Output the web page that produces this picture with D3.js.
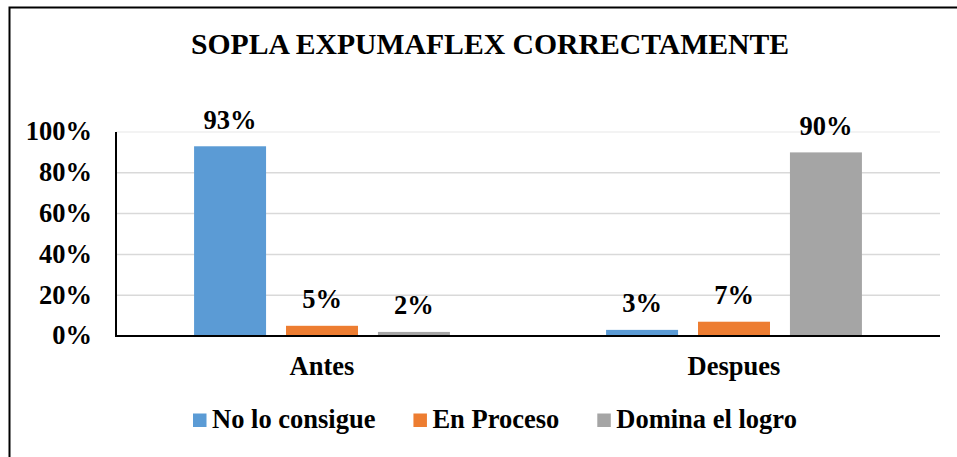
<!DOCTYPE html>
<html>
<head>
<meta charset="utf-8">
<script src="https://cdn.jsdelivr.net/npm/d3@7"></script>
<style>
	body { margin: 0; background: #fff; }
</style>
</head>
<body>
<svg id="chart" width="957" height="457"></svg>
<script>
// data
const categories = ["Antes", "Despues"];
const seriesNames = ["No lo consigue", "En Proceso", "Domina el logro"];
const seriesColors = ["#5b9bd5", "#ed7d31", "#a5a5a5"];
const noLoConsigue = [93, 3];
const enProceso = [5, 7];
const dominaElLogro = [2, 90];
const yTicks = [0, 20, 40, 60, 80, 100];

const seriesValues = [noLoConsigue, enProceso, dominaElLogro];
const FONT = "Liberation Serif";
const FS = 26.5;

const svg = d3.select("#chart")
	.attr("font-family", FONT)
	.attr("font-weight", "bold");

//outer frame (right and bottom edges are off the picture)
svg.append("path")
	.attr("d", "M9.5,460 L9.5,7.5 L960,7.5")
	.attr("fill", "none")
	.attr("stroke", "#000")
	.attr("stroke-width", 2);

//title
svg.append("text")
	.attr("x", 490)
	.attr("y", 54)
	.attr("text-anchor", "middle")
	.attr("font-family", FONT)
	.attr("font-size", 29.7)
	.text("SOPLA EXPUMAFLEX CORRECTAMENTE");

const plot = { left: 116, right: 940, top: 132, bottom: 336 };

var y = d3.scaleLinear().domain([0, 100]).range([plot.bottom, plot.top]);

var x0 = d3.scaleBand()
	.domain(categories)
	.range([plot.left, plot.right])
	.paddingInner(0.379)
	.paddingOuter(0.1895);

var x1 = d3.scaleBand()
	.domain(seriesNames)
	.range([0, x0.bandwidth()])
	.paddingInner(0.217)
	.paddingOuter(0);

//gridlines
svg.append("g")
	.selectAll("line")
	.data(yTicks.filter((t) => t > 0))
	.enter()
	.append("line")
	.attr("x1", plot.left)
	.attr("x2", plot.right)
	.attr("y1", (d) => y(d))
	.attr("y2", (d) => y(d))
	.attr("stroke", (d) => (d === 100 ? "#efefef" : "#d9d9d9"))
	.attr("stroke-width", 1.5);

//y tick labels
svg.append("g")
	.selectAll("text")
	.data(yTicks)
	.enter()
	.append("text")
	.attr("x", 92)
	.attr("y", (d) => y(d))
	.attr("dy", "0.32em")
	.attr("text-anchor", "end")
	.attr("font-family", FONT)
	.attr("font-size", FS)
	.text((d) => d + "%");

//bars
const rows = [];
categories.forEach((c, ci) => {
	seriesNames.forEach((s, si) => {
		rows.push({ cat: c, series: s, color: seriesColors[si], value: seriesValues[si][ci] });
	});
});

svg.append("g")
	.selectAll("rect")
	.data(rows)
	.enter()
	.append("rect")
	.attr("x", (d) => x0(d.cat) + x1(d.series))
	.attr("width", x1.bandwidth())
	.attr("y", (d) => y(d.value))
	.attr("height", (d) => y(0) - y(d.value))
	.attr("fill", (d) => d.color);

//value labels
svg.append("g")
	.selectAll("text")
	.data(rows)
	.enter()
	.append("text")
	.attr("x", (d) => x0(d.cat) + x1(d.series) + x1.bandwidth() / 2)
	.attr("y", (d) => y(d.value) - 17.5)
	.attr("text-anchor", "middle")
	.attr("font-family", FONT)
	.attr("font-size", FS)
	.text((d) => d.value + "%");

//axes lines
svg.append("line")
	.attr("x1", plot.left).attr("x2", plot.left)
	.attr("y1", plot.top).attr("y2", plot.bottom + 1)
	.attr("stroke", "#000").attr("stroke-width", 2);
svg.append("line")
	.attr("x1", plot.left - 1).attr("x2", plot.right)
	.attr("y1", plot.bottom).attr("y2", plot.bottom)
	.attr("stroke", "#000").attr("stroke-width", 2);

//category labels
svg.append("g")
	.selectAll("text")
	.data(categories)
	.enter()
	.append("text")
	.attr("x", (d) => x0(d) + x0.bandwidth() / 2)
	.attr("y", 375)
	.attr("text-anchor", "middle")
	.attr("font-family", FONT)
	.attr("font-size", FS)
	.text((d) => d);

//legend
var legend = svg.append("g");
var lx = 193;
seriesNames.forEach((name, i) => {
	legend.append("rect")
		.attr("x", lx)
		.attr("y", 413.5)
		.attr("width", 13.5)
		.attr("height", 13.5)
		.attr("fill", seriesColors[i]);
	var t = legend.append("text")
		.attr("x", lx + 19)
		.attr("y", 428)
		.attr("font-family", FONT)
		.attr("font-size", FS)
		.text(name);
	lx = lx + 19 + t.node().getComputedTextLength() + 38;
});
</script>
</body>
</html>
